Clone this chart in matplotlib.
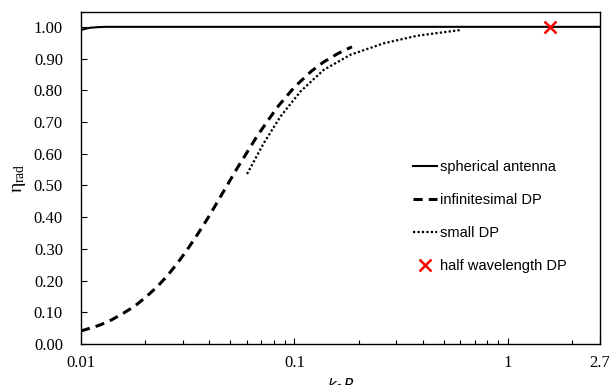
import numpy as np
import matplotlib.pyplot as plt
from matplotlib.ticker import FixedLocator, NullFormatter, LogLocator

# Data
sph_x = [0.01, 0.0105, 0.011, 0.012, 0.013, 0.02, 0.1, 1.0, 2.7]
sph_y = [0.990, 0.994, 0.997, 0.999, 1.000, 1.000, 1.000, 1.000, 1.000]

inf_x = [0.01, 0.0123, 0.0139, 0.0158, 0.0179, 0.0203, 0.0227, 0.0253, 0.0281,
         0.0313, 0.0355, 0.040, 0.045, 0.0538, 0.0668, 0.083, 0.100, 0.120,
         0.137, 0.160, 0.186]
inf_y = [0.041, 0.060, 0.076, 0.097, 0.120, 0.150, 0.180, 0.214, 0.252,
         0.295, 0.350, 0.405, 0.464, 0.553, 0.655, 0.746, 0.810, 0.860,
         0.889, 0.916, 0.937]

small_x = [0.060, 0.0718, 0.086, 0.1067, 0.137, 0.183, 0.262, 0.376, 0.60]
small_y = [0.536, 0.633, 0.717, 0.796, 0.864, 0.912, 0.948, 0.972, 0.990]

half_x = [1.571]
half_y = [1.0]

fig = plt.figure(figsize=(6.09, 3.85), dpi=100)
ax = fig.add_axes([0.133, 0.1065, 0.852, 0.8625])

ax.plot(sph_x, sph_y, color='black', lw=1.5, label='spherical antenna')
ax.plot(inf_x, inf_y, color='black', lw=2.2, dashes=(3, 2), label='infinitesimal DP')
ax.plot(small_x, small_y, color='black', lw=1.6, linestyle=(0, (1, 1)), label='small DP')
ax.plot(half_x, half_y, linestyle='none', marker='x', color='red', ms=9, mew=1.8,
        label='half wavelength DP')

ax.set_xscale('log')
ax.set_xlim(0.01, 2.7)
ax.set_ylim(0, 1.047)

ax.xaxis.set_major_locator(FixedLocator([0.01, 0.1, 1, 2.7]))
ax.set_xticklabels(['0.01', '0.1', '1', '2.7'])
ax.xaxis.set_minor_locator(LogLocator(base=10, subs=np.arange(2, 10)))
ax.xaxis.set_minor_formatter(NullFormatter())
ax.set_yticks(np.arange(0, 1.01, 0.1))
ax.set_yticklabels(['%.2f' % v for v in np.arange(0, 1.01, 0.1)])

ax.tick_params(which='both', direction='in', top=False, right=False)
ax.tick_params(which='major', length=4, width=0.8)
ax.tick_params(which='minor', length=3, width=0.8)
ax.tick_params(axis='y', pad=13)
ax.tick_params(axis='x', pad=8)
for lab in ax.get_xticklabels() + ax.get_yticklabels():
    lab.set_fontfamily('Liberation Serif')
    lab.set_fontsize(12)

for sp in ax.spines.values():
    sp.set_linewidth(1.0)

ax.set_xlabel(r'$k_0R$', fontsize=11, labelpad=4)
ax.set_ylabel(r'$\mathregular{\eta_{rad}}$', fontsize=14, family='Liberation Serif', labelpad=4)

ax.legend(loc='center left', bbox_to_anchor=(0.629, 0.384), frameon=False,
          prop={'family': 'Liberation Sans', 'size': 10.5}, handlelength=1.65,
          handletextpad=0.2, labelspacing=1.3, borderaxespad=0)

fig.savefig('out.png', dpi=100)
